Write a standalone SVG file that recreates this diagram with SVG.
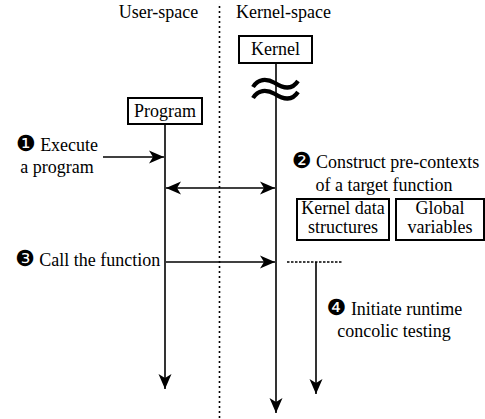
<svg xmlns="http://www.w3.org/2000/svg" width="485" height="419" viewBox="0 0 485 419">
<style>
text{font-size:18px;fill:#000}
.n{font-size:22px}
.box{fill:#fff;stroke:#000;stroke-width:2}
.ln{stroke:#000;stroke-width:1.6;fill:none}
.mid{text-anchor:middle}
</style>
<defs>
<marker id="ah" viewBox="-15 -7 16 14" refX="0" refY="0" markerWidth="16" markerHeight="14" markerUnits="userSpaceOnUse" orient="auto-start-reverse">
<path d="M0,0 L-15,-6.5 L-11,0 L-15,6.5 Z" fill="#000"/>
</marker>
</defs>
<g id="labels" font-family="Liberation Serif, serif">
<text x="158.5" y="18" class="mid">User-space</text>
<text x="236" y="18">Kernel-space</text>
</g>
<g id="divider">
<line x1="219.5" y1="6" x2="219.5" y2="419" stroke="#000" stroke-width="1.6" stroke-dasharray="2 3"/>
</g>
<g id="connectors">
<line class="ln" x1="165" y1="124" x2="165" y2="389" marker-end="url(#ah)"/>
<line class="ln" x1="276" y1="62" x2="276" y2="413" marker-end="url(#ah)"/>
<line class="ln" x1="103" y1="157" x2="164" y2="157" marker-end="url(#ah)"/>
<line class="ln" x1="166" y1="188" x2="275" y2="188" marker-start="url(#ah)" marker-end="url(#ah)"/>
<line class="ln" x1="166" y1="262" x2="275" y2="262" marker-end="url(#ah)"/>
<line x1="287" y1="262" x2="343" y2="262" stroke="#000" stroke-width="1.4" stroke-dasharray="2.5 1.5"/>
<line class="ln" x1="316" y1="262" x2="316" y2="394" marker-end="url(#ah)"/>
<path d="M253,87 C258,79 266,78 275,83 C284,89 292,90 298,81" stroke="#000" stroke-width="4.2" fill="none"/>
<path d="M253,98 C258,90 266,89 275,94 C284,100 292,101 298,92" stroke="#000" stroke-width="4.2" fill="none"/>
</g>
<g id="kernel" font-family="Liberation Serif, serif">
<rect class="box" x="239" y="36" width="73" height="27"/>
<text x="275.5" y="55" class="mid">Kernel</text>
</g>
<g id="program" font-family="Liberation Serif, serif">
<rect class="box" x="128" y="98" width="74" height="26"/>
<text x="165" y="117" class="mid">Program</text>
</g>
<g id="step1" font-family="Liberation Serif, serif">
<text x="57" y="151" class="mid"><tspan class="n" font-family="DejaVu Sans">❶</tspan> Execute</text>
<text x="57" y="173" class="mid">a program</text>
</g>
<g id="step2" font-family="Liberation Serif, serif">
<text x="385.5" y="168" class="mid"><tspan class="n" font-family="DejaVu Sans">❷</tspan> Construct pre-contexts</text>
<text x="384" y="191" class="mid">of a target function</text>
</g>
<g id="kds" font-family="Liberation Serif, serif">
<rect class="box" x="297" y="199" width="92" height="41"/>
<text x="343" y="214" class="mid">Kernel data</text>
<text x="343" y="233" class="mid">structures</text>
</g>
<g id="globals" font-family="Liberation Serif, serif">
<rect class="box" x="396" y="199" width="88" height="41"/>
<text x="440" y="214" class="mid">Global</text>
<text x="440" y="233" class="mid">variables</text>
</g>
<g id="step3" font-family="Liberation Serif, serif">
<text x="15" y="266"><tspan class="n" font-family="DejaVu Sans">❸</tspan> Call the function</text>
</g>
<g id="step4" font-family="Liberation Serif, serif">
<text x="394.5" y="315" class="mid"><tspan class="n" font-family="DejaVu Sans">❹</tspan> Initiate runtime</text>
<text x="394" y="337" class="mid">concolic testing</text>
</g>
</svg>
